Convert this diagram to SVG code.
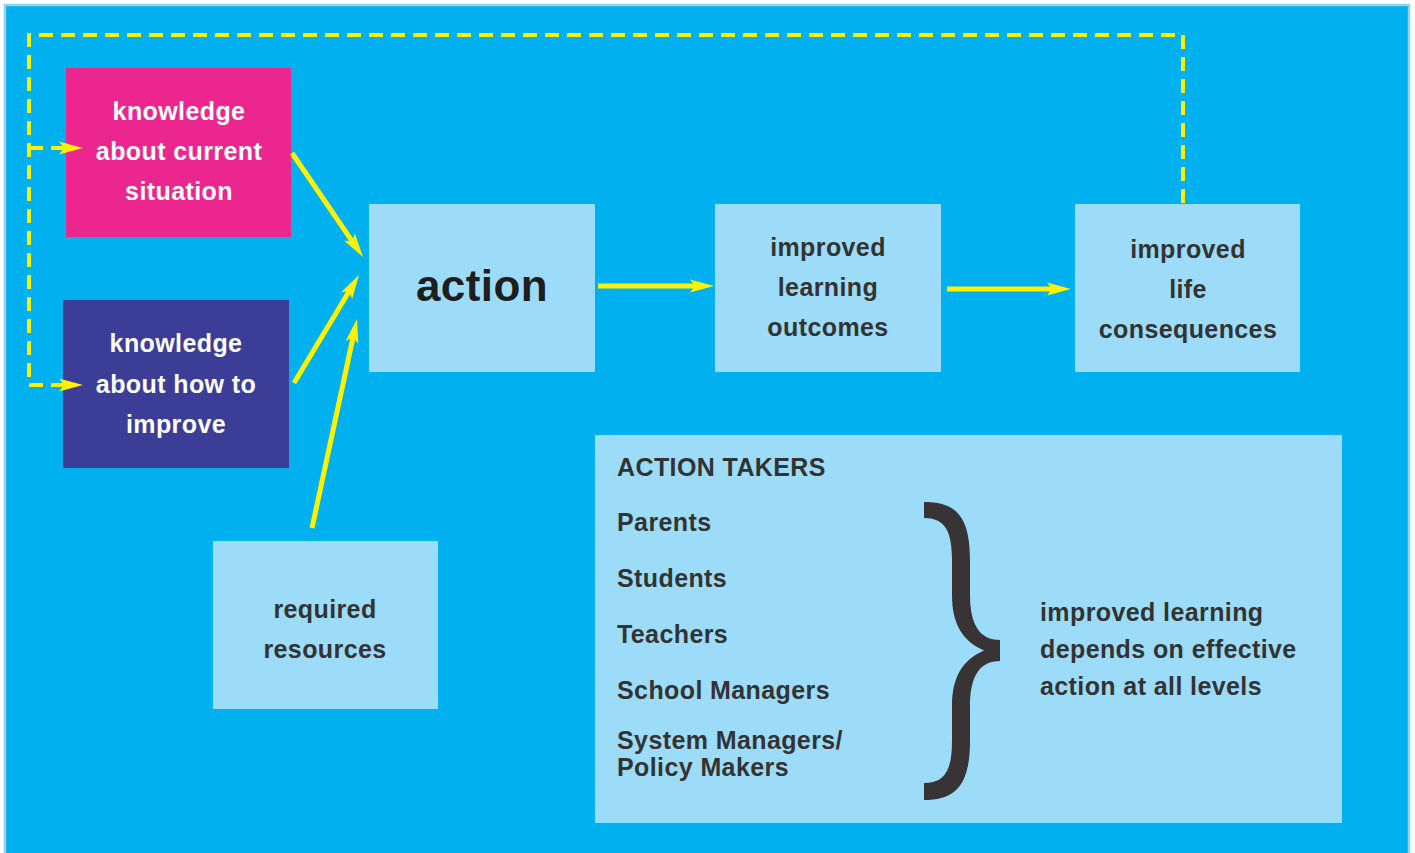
<svg xmlns="http://www.w3.org/2000/svg" width="1415" height="853" viewBox="0 0 1415 853">
<style>
.t{font-family:"Liberation Sans",Arial,sans-serif;font-weight:bold;font-size:25px;letter-spacing:0.4px}
.w{fill:#ffffff}
.d{fill:#333333}
.c{text-anchor:middle}
.lb{fill:#9cdcf9}
.arr{stroke:#fff200;stroke-width:5;fill:none;marker-end:url(#ah)}
.dash{stroke:#fff200;stroke-width:4;fill:none;stroke-dasharray:14 8}
</style>
<defs>
<marker id="ah" markerUnits="userSpaceOnUse" markerWidth="24" markerHeight="14" refX="5" refY="6.5" orient="auto" overflow="visible">
<path d="M0,0 L24,6.5 L0,13 L5,6.5 Z" fill="#fff200"/>
</marker>
</defs>
<rect x="0" y="0" width="1415" height="853" fill="#ffffff"/>
<rect x="5" y="5" width="1404" height="860" fill="#00b0ef" stroke="#8fd3f3" stroke-width="2.5"/>

<g id="node-knowledge-current">
<rect x="66" y="68" width="225" height="169" fill="#ec268f"/>
<text class="t w c" x="179" y="120">knowledge</text>
<text class="t w c" x="179" y="160">about current</text>
<text class="t w c" x="179" y="200">situation</text>
</g>

<g id="node-knowledge-improve">
<rect x="63" y="300" width="226" height="168" fill="#3b3d96"/>
<text class="t w c" x="176" y="352">knowledge</text>
<text class="t w c" x="176" y="393">about how to</text>
<text class="t w c" x="176" y="433">improve</text>
</g>

<g id="node-action">
<rect class="lb" x="369" y="204" width="226" height="168"/>
<text class="t d c" x="482" y="301" style="font-size:44px;fill:#1e1e1e">action</text>
</g>

<g id="node-outcomes">
<rect class="lb" x="715" y="204" width="226" height="168"/>
<text class="t d c" x="828" y="256">improved</text>
<text class="t d c" x="828" y="296">learning</text>
<text class="t d c" x="828" y="336">outcomes</text>
</g>

<g id="node-life">
<rect class="lb" x="1075" y="204" width="225" height="168"/>
<text class="t d c" x="1188" y="258">improved</text>
<text class="t d c" x="1188" y="298">life</text>
<text class="t d c" x="1188" y="338">consequences</text>
</g>

<g id="node-resources">
<rect class="lb" x="213" y="541" width="225" height="168"/>
<text class="t d c" x="325" y="618">required</text>
<text class="t d c" x="325" y="658">resources</text>
</g>

<g id="node-action-takers">
<rect class="lb" x="595" y="435" width="747" height="388"/>
<text class="t d" x="617" y="476">ACTION TAKERS</text>
<text class="t d" x="617" y="531">Parents</text>
<text class="t d" x="617" y="587">Students</text>
<text class="t d" x="617" y="643">Teachers</text>
<text class="t d" x="617" y="699">School Managers</text>
<text class="t d" x="617" y="749">System Managers/</text>
<text class="t d" x="617" y="776">Policy Makers</text>
<path fill="#383436" d="M924,502 C955,502 970,515 970,560 L970,595 C970,625 980,640 1000,640 L1000,661 C980,661 970,676 970,706 L970,741 C970,786 955,800 924,800 L924,783 C945,783 952,770 952,741 L952,706 C952,678 962,660 984,650.5 C962,641 952,623 952,595 L952,560 C952,531 945,518 924,518 Z"/>
<text class="t d" x="1040" y="621">improved learning</text>
<text class="t d" x="1040" y="658">depends on effective</text>
<text class="t d" x="1040" y="695">action at all levels</text>
</g>

<g id="connectors">
<path class="dash" d="M1183,203 L1183,35 L29,35 L29,385"/>
<path class="dash" d="M29,148 L64,148" marker-end="url(#ah)"/>
<path class="dash" d="M29,385 L64,385" marker-end="url(#ah)"/>
<line class="arr" x1="292" y1="153" x2="352.3" y2="241.3"/>
<line class="arr" x1="294" y1="383" x2="349.2" y2="291.3"/>
<line class="arr" x1="312" y1="528" x2="353" y2="337.6"/>
<line class="arr" x1="598" y1="286" x2="695" y2="286"/>
<line class="arr" x1="947" y1="289" x2="1052" y2="289"/>
</g>
</svg>
